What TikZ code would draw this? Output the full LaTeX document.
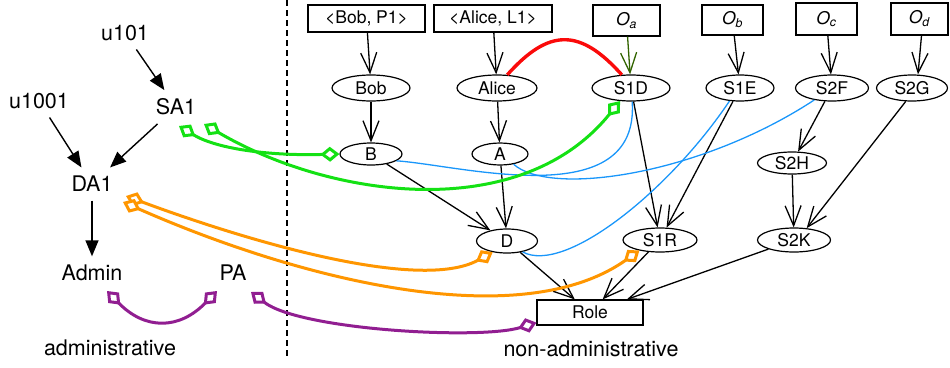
\documentclass[tikz,border=0pt]{standalone}
\usepackage{fontspec}
\setmainfont{TeX Gyre Heros}
\usetikzlibrary{arrows.meta,shapes.geometric}

\definecolor{linkgreen}{RGB}{20,225,20}
\definecolor{linkorange}{RGB}{255,150,0}
\definecolor{linkpurple}{RGB}{145,30,145}
\definecolor{linkblue}{RGB}{25,150,250}
\definecolor{linkred}{RGB}{250,10,10}
\definecolor{objgreen}{RGB}{50,100,0}

\newcommand{\diagnodefont}{\fontsize{17.5}{20}\selectfont}
\newcommand{\diaglabelfont}{\fontsize{21.5}{24}\selectfont}

\tikzset{
  oval/.style={draw, ellipse, line width=1.2pt, inner sep=0pt, font=\diagnodefont},
  sq/.style={draw, rectangle, line width=1.2pt, inner sep=0pt, font=\diagnodefont},
  plain/.style={font=\diaglabelfont, inner xsep=4pt, inner ysep=8.5pt},
  varr/.style={line width=1.3pt, arrows={-Straight Barb[length=20pt,width=16pt,line width=1.3pt]}},
  tarr/.style={line width=1.4pt, -{Triangle[length=16pt,width=13pt]}},
  dlink/.style={line width=3pt,
    arrows={Diamond[open,fill=white,length=19pt,width=15pt,line width=3pt]-Diamond[open,fill=white,length=19pt,width=15pt,line width=3pt]}},
  bline/.style={linkblue, line width=1.3pt},
  gline/.style={dlink, linkgreen},
  oline/.style={dlink, linkorange},
  pline/.style={dlink, linkpurple},
  rline/.style={linkred, line width=3.4pt},
}

\begin{document}
\begin{tikzpicture}[x=1pt,y=-1pt]
\useasboundingbox (0,0) rectangle (950,367);

% divider between the two halves
\draw[line width=1.2pt, dash pattern=on 6pt off 4pt] (287,0) -- (287,356);

% administrative side
\node[plain] (u101) at (125,33) {u101};
\node[plain] (u1001) at (39,101) {u1001};
\node[plain] (SA1) at (176,107) {SA1};
\node[plain] (DA1) at (92,184) {DA1};
\node[plain] (Admin) at (92,273) {Admin};
\node[plain] (PA) at (233,273) {PA};
\node[font=\diaglabelfont] (admlabel) at (110,348) {administrative};

\draw[tarr] (u101) -- (SA1);
\draw[tarr] (u1001) -- (DA1);
\draw[tarr] (SA1) -- (DA1);
\draw[tarr] (DA1) -- (Admin);

% non-administrative side: key boxes
\node[sq, minimum width=117pt, minimum height=27pt] (bobkey) at (366.5,18.5) {<Bob, P1>};
\node[sq, minimum width=118pt, minimum height=27pt] (alicekey) at (493,18.5) {<Alice, L1>};
\node[sq, minimum width=67pt, minimum height=31pt] (Oa) at (626.5,20.5) {\textit{O}\textsubscript{\textit{a}}};
\node[sq, minimum width=61pt, minimum height=30pt] (Ob) at (732.5,20) {\textit{O}\textsubscript{\textit{b}}};
\node[sq, minimum width=61pt, minimum height=32pt] (Oc) at (826.5,19) {\textit{O}\textsubscript{\textit{c}}};
\node[sq, minimum width=57pt, minimum height=32pt] (Od) at (919.5,19) {\textit{O}\textsubscript{\textit{d}}};

% first row of ovals
\node[oval, minimum width=78pt, minimum height=26pt] (bob) at (371,88) {Bob};
\node[oval, minimum width=80pt, minimum height=26pt] (alice) at (497,88) {Alice};
\node[oval, minimum width=78pt, minimum height=26pt] (S1D) at (631,88) {S1D};
\node[oval, minimum width=68pt, minimum height=26pt] (S1E) at (740,88) {S1E};
\node[oval, minimum width=73pt, minimum height=26pt] (S2F) at (832,88) {S2F};
\node[oval, minimum width=71pt, minimum height=26pt] (S2G) at (912,88) {S2G};

% second row
\node[oval, minimum width=62pt, minimum height=22pt] (B) at (371,154) {B};
\node[oval, minimum width=56pt, minimum height=22pt] (A) at (500,154) {A};
\node[oval, minimum width=69pt, minimum height=22pt] (S2H) at (792,163) {S2H};

% third row
\node[oval, minimum width=61pt, minimum height=24pt] (D) at (507,241) {D};
\node[oval, minimum width=74pt, minimum height=24pt] (S1R) at (660,240) {S1R};
\node[oval, minimum width=73pt, minimum height=24pt] (S2K) at (794,240) {S2K};

\node[sq, minimum width=106pt, minimum height=25pt] (role) at (590,312.5) {Role};
\node[font=\diaglabelfont] (nonadmlabel) at (591,349) {non-administrative};

% hierarchy edges
\draw[varr] (bobkey) -- (bob);
\draw[varr] (alicekey) -- (alice);
\draw[varr, objgreen] (Oa) -- (S1D);
\draw[varr] (Ob) -- (S1E);
\draw[varr] (Oc) -- (S2F);
\draw[varr] ([shift={(2,0)}]Od.south) -- ([shift={(6,0)}]S2G.north);
\draw[varr] (bob) -- (B);
\draw[varr] (alice) -- (A);
\draw[varr] (B) -- (D);
\draw[varr] (A) -- (D);
\draw[varr] (S1D) -- (S1R);
\draw[varr] (S1E) -- (S1R);
\draw[varr] (S2F) -- (S2H);
\draw[varr] (S2H) -- (S2K);
\draw[varr] (S2G.245) -- (S2K.43);
\draw[varr] (D) -- (role);
\draw[varr] (S1R) -- (role);
\draw[varr] (S2K) -- (role);

% blue links
\draw[bline] (B.-15) .. controls (460,165) and (640,215) .. (S1D.-85);
\draw[bline] (A.-37) .. controls (550,197) and (700,175) .. (S2F.214);
\draw[bline] (D.-35) .. controls (565,275) and (670,190) .. (S1E.231);

% red link
\draw[rline] (alice.52) .. controls (549,28) and (580,28) .. (S1D.125);

% green links
\draw[gline] ([shift={(3,19)}]SA1.center) .. controls (215,148) and (265,156) .. (B.west);
\draw[gline] ([shift={(28,17)}]SA1.center) .. controls (330,198) and (520,225) .. (S1D.230);

% orange links
\draw[oline] ([shift={(34,12)}]DA1.center) .. controls (250,242) and (420,292) .. (D.218);
\draw[oline] ([shift={(31,18)}]DA1.center) .. controls (300,280) and (520,335) .. (S1R.207);

% purple links
\draw[pline] ([shift={(15,18)}]Admin.center) .. controls (145,330) and (179,330) .. ([shift={(-16,18)}]PA.center);
\draw[pline] ([shift={(18,19)}]PA.center) .. controls (300,330) and (480,340) .. ([shift={(0,-3)}]role.south west);
\end{tikzpicture}
\end{document}
